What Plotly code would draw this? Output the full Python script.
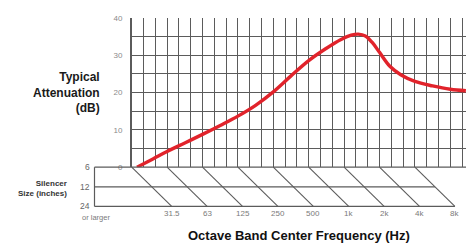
import plotly.graph_objects as go

# ---------------- data ----------------
bands = ["31.5", "63", "125", "250", "500", "1k", "2k", "4k", "8k"]   # octave bands (index = octaves above 31.5 Hz)
sizes = ["6", "12", "24"]                                          # silencer size rows (inches)
size_shift = [0.0, 0.565, 1.13]                                    # band shift (octaves) for each size row
curve_oct = [0.15, 0.6, 1.0, 1.5, 2.0, 2.5, 3.0, 3.5, 4.0, 4.5, 5.0, 5.5, 5.9, 6.2,
             6.4, 6.6, 6.8, 7.0, 7.3, 7.6, 8.0, 8.5, 9.0, 9.44]
curve_db = [0, 2.2, 4.2, 6.5, 8.8, 11.2, 13.7, 16.6, 20.2, 24.5, 28.6, 31.9, 34.2, 35.4,
            35.7, 35.2, 33.4, 30.8, 27.0, 24.8, 23.0, 21.8, 20.9, 20.5]
db_ticks = [0, 10, 20, 30, 40]

# ---------------- geometry helpers ----------------
W, H = 470, 249
X0_PX = 131.7        # pixel of 31.5 Hz band on 6-inch row
PX_OCT = 35.4        # pixels per octave
ROW0_PX, ROW_PX = 169.3, 20.35
GRID_RIGHT_PX = 466
GRID_TOP_PX = 14.6


def u_of(px):
    return (px - X0_PX) / PX_OCT


def r_of(py):
    return (py - ROW0_PX) / ROW_PX


u_left = u_of(94.5)
u_right = u_of(GRID_RIGHT_PX)

GRID = "#5b5b5b"
fig = go.Figure()

# main attenuation curve
fig.add_trace(go.Scatter(x=curve_oct, y=curve_db, mode="lines", xaxis="x", yaxis="y",
                         line=dict(color="#e1232b", width=3.4, shape="spline", smoothing=1.0),
                         hoverinfo="skip", showlegend=False))

# perspective box: row lines
for r in range(len(sizes)):
    xe = u_right if r == 0 else (len(bands) - 1) + size_shift[r]
    fig.add_trace(go.Scatter(x=[u_left, xe], y=[r, r], mode="lines", xaxis="x2", yaxis="y2",
                             line=dict(color=GRID, width=1.2), hoverinfo="skip", showlegend=False))
# left edge
fig.add_trace(go.Scatter(x=[u_left, u_left], y=[0, len(sizes) - 1], mode="lines", xaxis="x2", yaxis="y2",
                         line=dict(color=GRID, width=1.2), hoverinfo="skip", showlegend=False))
# diagonals for each band
for i, b in enumerate(bands):
    fig.add_trace(go.Scatter(x=[i + size_shift[0], i + size_shift[-1]], y=[0, len(sizes) - 1],
                             mode="lines", xaxis="x2", yaxis="y2",
                             line=dict(color=GRID, width=1.1), hoverinfo="skip", showlegend=False))

annotations = []
# band labels at the bottom row
for i, b in enumerate(bands):
    annotations.append(dict(x=i + size_shift[-1], y=r_of(217.5), xref="x2", yref="y2", text=b,
                            showarrow=False, xanchor="center", yanchor="middle",
                            font=dict(family="Liberation Sans Narrow, Liberation Sans, Arial", size=8, color="#7a7a7a")))
# size labels
for r, s in enumerate(sizes):
    annotations.append(dict(x=u_of(92), y=r, xref="x2", yref="y2", text=s, showarrow=False,
                            xanchor="right", yanchor="middle",
                            font=dict(family="Liberation Sans, Arial", size=8.5, color="#666666")))
annotations.append(dict(x=u_of(80), y=r_of(221.5), xref="x2", yref="y2", text="or larger", showarrow=False,
                        xanchor="left", yanchor="middle",
                        font=dict(family="Liberation Sans Narrow, Liberation Sans, Arial", size=7.5, color="#7a7a7a")))
annotations.append(dict(x=u_of(68.5), y=r_of(191), xref="x2", yref="y2",
                        text="<b>Silencer</b><br><b>Size (inches)</b>", showarrow=False, align="right",
                        xanchor="right", yanchor="middle",
                        font=dict(family="Liberation Sans Narrow, Liberation Sans, Arial", size=8, color="#333333")))
annotations.append(dict(x=u_of(102), y=r_of(92), xref="x2", yref="y2",
                        text="<b>Typical</b><br><b>Attenuation</b><br><b>(dB)</b>", showarrow=False, align="right",
                        xanchor="right", yanchor="middle",
                        font=dict(family="Liberation Sans, Arial", size=12, color="#1a1a1a")))
annotations.append(dict(x=u_of(299), y=r_of(240), xref="x2", yref="y2",
                        text="<b>Octave Band Center Frequency (Hz)</b>", showarrow=False,
                        xanchor="center", yanchor="middle",
                        font=dict(family="Liberation Sans, Arial", size=13, color="#111111")))

fig.update_layout(
    width=W, height=H, margin=dict(l=0, r=0, t=0, b=0),
    paper_bgcolor="white", plot_bgcolor="rgba(0,0,0,0)",
    showlegend=False,
    xaxis=dict(domain=[X0_PX / W, GRID_RIGHT_PX / W], range=[0, u_right], anchor="y",
               showgrid=True, gridcolor=GRID, gridwidth=1.1, tick0=0, dtick=1 / 3,
               showticklabels=False, ticks="", zeroline=False, showline=False, fixedrange=True),
    yaxis=dict(domain=[1 - ROW0_PX / H, 1 - GRID_TOP_PX / H], range=[0, 40], anchor="x",
               tickvals=db_ticks, showgrid=True, gridcolor=GRID, gridwidth=1.1,
               minor=dict(dtick=5, showgrid=True, gridcolor=GRID, gridwidth=1.1),
               showline=True, linecolor=GRID, linewidth=1.5, mirror=False,
               ticks="", ticklabelstandoff=6, zeroline=False,
               tickfont=dict(family="Liberation Sans Narrow, Liberation Sans, Arial", size=8, color="#8a8a8a"),
               fixedrange=True),
    xaxis2=dict(domain=[0, 1], range=[u_of(0), u_of(W)], anchor="y2", visible=False, fixedrange=True),
    yaxis2=dict(domain=[0, 1], range=[r_of(H), r_of(0)], anchor="x2", visible=False, fixedrange=True),
    annotations=annotations,
)

fig.write_html("out.html", config={"displayModeBar": False},
               post_script="document.body.style.margin='0px';document.body.style.overflow='hidden';")
